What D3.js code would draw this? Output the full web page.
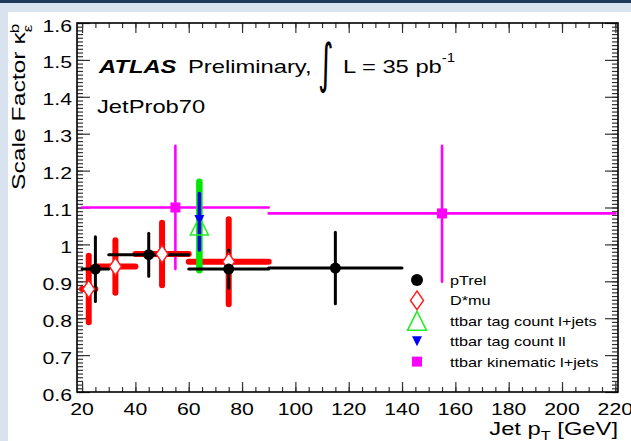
<!DOCTYPE html>
<html>
<head>
<meta charset="utf-8">
<script src="https://cdn.jsdelivr.net/npm/d3@7"></script>
<style>
  body { margin: 0; background: #fff; }
  svg { display: block; font-family: "Liberation Sans", Arial, Helvetica, sans-serif; }
</style>
</head>
<body>
<svg id="chart" width="631" height="441"></svg>
<script>
'use strict';

// values
const xTicks = [20, 40, 60, 80, 100, 120, 140, 160, 180, 200, 220];
const yTicks = [0.6, 0.7, 0.8, 0.9, 1, 1.1, 1.2, 1.3, 1.4, 1.5, 1.6];

const ptrelX = [25, 45, 75, 115];
const ptrelXLo = [20, 30, 60, 90];
const ptrelXHi = [30, 60, 90, 140];
const ptrelY = [0.933, 0.972, 0.933, 0.936];
const ptrelErr = [0.088, 0.058, 0.052, 0.097];

const dmuX = [22.5, 32.5, 50, 75];
const dmuXLo = [20, 25, 40, 60];
const dmuXHi = [25, 40, 60, 90];
const dmuY = [0.879, 0.940, 0.974, 0.953];
const dmuErr = [0.090, 0.071, 0.085, 0.115];

const tagLjX = [64];
const tagLjY = [1.05];
const tagLjErrUp = [0.12];
const tagLjErrDown = [0.12];

const tagLlX = [64];
const tagLlY = [1.066];
const tagLlErrUp = [0.072];
const tagLlErrDown = [0.081];

const kinX = [55, 155];
const kinXLo = [20, 90];
const kinXHi = [90, 220];
const kinY = [1.10, 1.084];
const kinErrUp = [0.167, 0.183];
const kinErrDown = [0.167, 0.185];

const legendLabels = ['pTrel', 'D*mu', 'ttbar tag count l+jets', 'ttbar tag count ll', 'ttbar kinematic l+jets'];

const W = 631, H = 441;
const SX = 1.25; // glyphs in the reference are wider than tall

const svg = d3.select('#chart');

// window chrome around the plot
svg.append('rect').attr('width', W).attr('height', H).attr('fill', '#d9e3ef');
svg.append('rect').attr('width', W).attr('height', 3).attr('fill', '#1d3a5c');
svg.append('rect').attr('x', 8).attr('y', 12).attr('width', W - 8).attr('height', H - 12).attr('fill', '#fff');

const x = d3.scaleLinear().domain([18.1, 221]).range([77, 618]);
const y = d3.scaleLinear().domain([0.6, 1.6]).range([392, 23]);

const [x0, x1] = x.range();
const [y0, y1] = y.range();

function label(g, tx, ty, size, txt, anchor = 'start', extra = '') {
  return g.append('text')
    .attr('transform', 'translate(' + tx + ',' + ty + ')' + extra + ' scale(' + SX + ',1)')
    .attr('font-size', size)
    .attr('text-anchor', anchor)
    .attr('fill', '#000')
    .text(txt);
}

// axes: ticks point inward on all four sides
const axes = svg.append('g').attr('class', 'axes');
const minorX = d3.range(20, 221, 5);
const minorY = d3.range(60, 161).map(d => d / 100);

axes.append('g').attr('transform', 'translate(0,' + y0 + ')')
  .call(d3.axisBottom(x).tickValues(minorX).tickSize(-5).tickSizeOuter(0).tickFormat(''));
axes.append('g').attr('transform', 'translate(0,' + y0 + ')')
  .call(d3.axisBottom(x).tickValues(xTicks).tickSize(-10).tickSizeOuter(0).tickFormat(''));
axes.append('g').attr('transform', 'translate(0,' + y1 + ')')
  .call(d3.axisTop(x).tickValues(minorX).tickSize(-5).tickSizeOuter(0).tickFormat(''));
axes.append('g').attr('transform', 'translate(0,' + y1 + ')')
  .call(d3.axisTop(x).tickValues(xTicks).tickSize(-10).tickSizeOuter(0).tickFormat(''));
axes.append('g').attr('transform', 'translate(' + x0 + ',0)')
  .call(d3.axisLeft(y).tickValues(minorY).tickSize(-6).tickSizeOuter(0).tickFormat(''));
axes.append('g').attr('transform', 'translate(' + x0 + ',0)')
  .call(d3.axisLeft(y).tickValues(yTicks).tickSize(-13).tickSizeOuter(0).tickFormat(''));
axes.append('g').attr('transform', 'translate(' + x1 + ',0)')
  .call(d3.axisRight(y).tickValues(minorY).tickSize(-6).tickSizeOuter(0).tickFormat(''));
axes.append('g').attr('transform', 'translate(' + x1 + ',0)')
  .call(d3.axisRight(y).tickValues(yTicks).tickSize(-13).tickSizeOuter(0).tickFormat(''));

axes.selectAll('.domain').remove();
axes.selectAll('.tick line').attr('stroke', '#333').attr('stroke-width', 1.2);

svg.append('rect')
  .attr('x', x0).attr('y', y1)
  .attr('width', x1 - x0).attr('height', y0 - y1)
  .attr('fill', 'none').attr('stroke', '#000').attr('stroke-width', 1.6);

// tick labels
const labels = svg.append('g').attr('class', 'labels');
xTicks.forEach(v => label(labels, x(v), 415, 17, String(v), 'middle'));
yTicks.forEach(v => label(labels, 72, y(v) + 8.5, 17, String(v), 'end'));

// axis titles
const xt = label(svg, x1, 435, 19, 'Jet p', 'end');
xt.append('tspan').attr('font-size', 13).attr('dy', 5).text('T');
xt.append('tspan').attr('dy', -5).text(' [GeV]');

const yt = svg.append('text')
  .attr('transform', 'translate(25,190) rotate(-90) scale(1.3,1)')
  .attr('font-size', 19)
  .attr('fill', '#000')
  .text('Scale Factor κ');
yt.append('tspan').attr('font-size', 13).attr('dy', 7).text('ε');
yt.append('tspan').attr('font-size', 13).attr('dx', -6.5).attr('dy', -13).text('b');

// plot annotations
label(svg, 99, 73, 19, 'ATLAS').attr('font-weight', 'bold').attr('font-style', 'italic');
label(svg, 188, 73, 19, 'Preliminary,');
svg.append('text')
  .attr('transform', 'translate(318,82) scale(0.55,1)')
  .attr('font-family', '"DejaVu Sans", sans-serif')
  .attr('font-size', 54)
  .attr('fill', '#000')
  .text('∫');
const lumi = label(svg, 343, 73, 19, 'L = 35 pb');
lumi.append('tspan').attr('font-size', 12).attr('dy', -11).text('-1');
label(svg, 97, 113, 19, 'JetProb70');

// markers
const markerPath = {
  circle: r => d3.symbol(d3.symbolCircle, Math.PI * r * r)(),
  diamond: s => 'M0,' + (-s * 0.72) + 'L' + (s * 0.5) + ',0L0,' + (s * 0.72) + 'L' + (-s * 0.5) + ',0Z',
  up: s => 'M0,' + (-s / 2) + 'L' + (s / 2) + ',' + (s / 2) + 'L' + (-s / 2) + ',' + (s / 2) + 'Z',
  down: s => 'M0,' + (s / 2) + 'L' + (-s / 2) + ',' + (-s / 2) + 'L' + (s / 2) + ',' + (-s / 2) + 'Z',
  square: s => 'M' + (-s / 2) + ',' + (-s / 2) + 'h' + s + 'v' + s + 'h' + (-s) + 'Z'
};

const series = [
  {
    name: 'kin', color: '#ff00ff', lw: 2.6, shape: 'square', size: 10, fill: '#ff00ff', stroke: 'none',
    pts: kinX.map((v, i) => ({x: v, xlo: kinXLo[i], xhi: kinXHi[i], y: kinY[i], up: kinErrUp[i], down: kinErrDown[i]}))
  },
  {
    name: 'dmu', color: '#ff0000', lw: 6, shape: 'diamond', size: 12, fill: '#fff', stroke: '#ff2020',
    pts: dmuX.map((v, i) => ({x: v, xlo: dmuXLo[i], xhi: dmuXHi[i], y: dmuY[i], up: dmuErr[i], down: dmuErr[i]}))
  },
  {
    name: 'taglj', color: '#00e600', lw: 6.5, shape: 'up', size: 18, fill: 'none', stroke: '#22ee22',
    pts: tagLjX.map((v, i) => ({x: v, xlo: v, xhi: v, y: tagLjY[i], up: tagLjErrUp[i], down: tagLjErrDown[i]}))
  },
  {
    name: 'tagll', color: '#0000ff', lw: 3.5, shape: 'down', size: 10, fill: '#0000ff', stroke: 'none',
    pts: tagLlX.map((v, i) => ({x: v, xlo: v, xhi: v, y: tagLlY[i], up: tagLlErrUp[i], down: tagLlErrDown[i]}))
  },
  {
    name: 'ptrel', color: '#000', lw: 3, shape: 'circle', size: 5.5, fill: '#000', stroke: 'none',
    pts: ptrelX.map((v, i) => ({x: v, xlo: ptrelXLo[i], xhi: ptrelXHi[i], y: ptrelY[i], up: ptrelErr[i], down: ptrelErr[i]}))
  }
];

const bars = svg.append('g').attr('class', 'bars');
const marks = svg.append('g').attr('class', 'marks');

series.forEach(s => {
  const g = bars.append('g').attr('class', s.name)
    .attr('stroke', s.color)
    .attr('stroke-width', s.lw)
    .attr('stroke-linecap', 'round');

  g.selectAll('line.h')
    .data(s.pts.filter(d => d.xhi > d.xlo))
    .enter().append('line')
      .attr('class', 'h')
      .attr('x1', d => x(d.xlo))
      .attr('x2', d => x(d.xhi))
      .attr('y1', d => y(d.y))
      .attr('y2', d => y(d.y));

  g.selectAll('line.v')
    .data(s.pts)
    .enter().append('line')
      .attr('class', 'v')
      .attr('x1', d => x(d.x))
      .attr('x2', d => x(d.x))
      .attr('y1', d => y(d.y + d.up))
      .attr('y2', d => y(d.y - d.down));

  marks.append('g').attr('class', s.name)
    .selectAll('path')
    .data(s.pts)
    .enter().append('path')
      .attr('transform', d => 'translate(' + x(d.x) + ',' + y(d.y) + ')')
      .attr('d', markerPath[s.shape](s.size))
      .attr('fill', s.fill)
      .attr('stroke', s.stroke)
      .attr('stroke-width', 1.5);
});

// legend
const legendOrder = ['ptrel', 'dmu', 'taglj', 'tagll', 'kin'];
const legendSize = {ptrel: 6, dmu: 13, taglj: 19, tagll: 10, kin: 10};
const legend = svg.append('g').attr('class', 'legend');

legendOrder.forEach((key, i) => {
  const s = series.find(d => d.name === key);
  const ly = 280 + i * 20.4;
  legend.append('path')
    .attr('transform', 'translate(417,' + ly + ')')
    .attr('d', markerPath[s.shape](legendSize[key]))
    .attr('fill', s.fill)
    .attr('stroke', s.stroke)
    .attr('stroke-width', 1.5);
  label(legend, 450, ly + 5, 13, legendLabels[i]);
});
</script>
</body>
</html>
